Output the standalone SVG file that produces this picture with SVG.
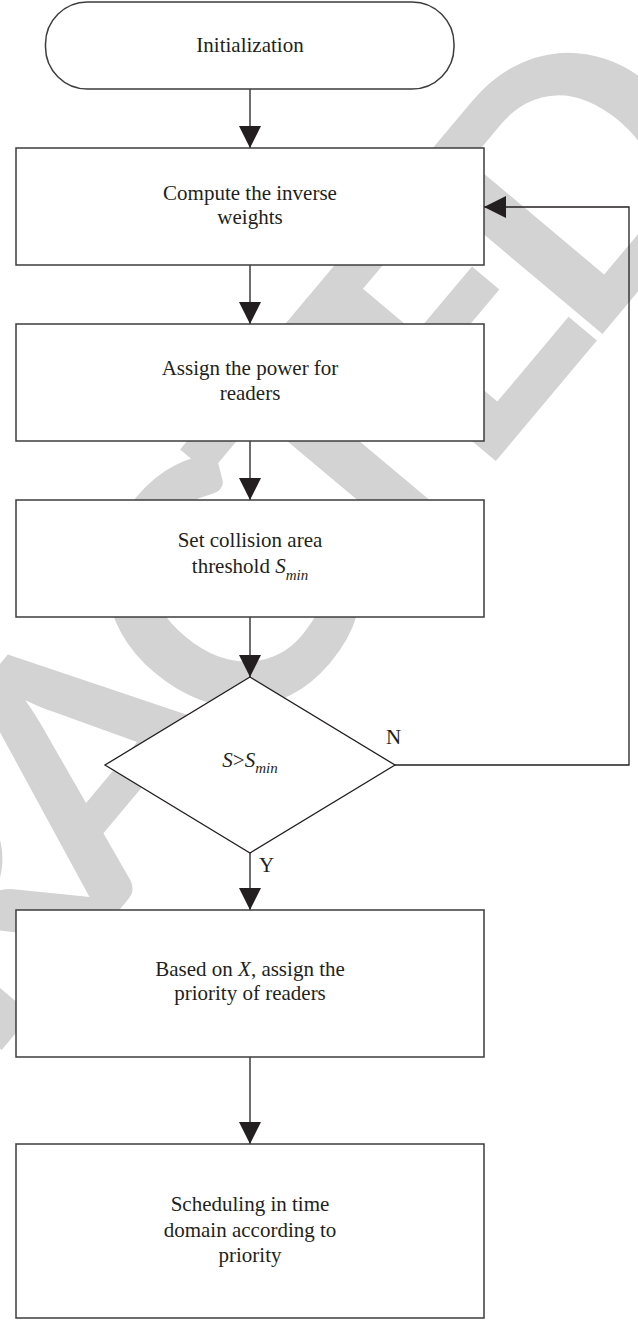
<svg xmlns="http://www.w3.org/2000/svg" width="638" height="1320" viewBox="0 0 638 1320">
<style>
.box{fill:#fff;stroke:#3c3c3c;stroke-width:1.5}
.ln{fill:none;stroke:#231f20;stroke-width:1.3}
.t{font-family:"Liberation Serif","Times New Roman",serif;font-size:21px;fill:#231f20;text-anchor:middle}
.it{font-style:italic}
.sub{font-size:15px;font-style:italic}
.lbl{font-family:"Liberation Serif","Times New Roman",serif;font-size:21px;fill:#231f20}
.wm{font-family:Lato,"DejaVu Sans",sans-serif;font-weight:bold;font-size:345px;fill:#d3d3d3;text-anchor:middle}
</style>
<defs>
<marker id="ah" markerUnits="userSpaceOnUse" markerWidth="22" markerHeight="22" viewBox="0 0 22 22" refX="22" refY="11" orient="auto">
<path d="M0,0 L22,11 L0,22 z" fill="#231f20"/>
</marker>
</defs>
<g id="watermark">
<text class="wm" transform="translate(214,604) rotate(-50)" y="124" x="-920 -743 -575 -395 -195 10 195 362 560">RETRACTED</text>
</g>
<g id="connectors">
<path class="ln" d="M250,89 V148" marker-end="url(#ah)"/>
<path class="ln" d="M250,265 V324" marker-end="url(#ah)"/>
<path class="ln" d="M250,441 V500" marker-end="url(#ah)"/>
<path class="ln" d="M250,617 V677" marker-end="url(#ah)"/>
<path class="ln" d="M250,853 V910" marker-end="url(#ah)"/>
<path class="ln" d="M250,1057 V1144" marker-end="url(#ah)"/>
<path class="ln" d="M395,765 H629 V207 H484" marker-end="url(#ah)"/>
<text class="lbl" x="386" y="744">N</text>
<text class="lbl" x="259" y="872">Y</text>
</g>
<g id="init">
<rect class="box" x="45.5" y="2" width="408.5" height="87" rx="42" ry="42"/>
<text class="t" x="250" y="52">Initialization</text>
</g>
<g id="weights">
<rect class="box" x="16" y="148" width="468" height="117"/>
<text class="t" x="250" y="200">Compute the inverse</text>
<text class="t" x="250" y="224">weights</text>
</g>
<g id="power">
<rect class="box" x="16" y="324" width="468" height="117"/>
<text class="t" x="250" y="375">Assign the power for</text>
<text class="t" x="250" y="400">readers</text>
</g>
<g id="threshold">
<rect class="box" x="16" y="500" width="468" height="117"/>
<text class="t" x="250" y="547">Set collision area</text>
<text class="t" x="250" y="573">threshold <tspan class="it">S</tspan><tspan class="sub" dy="7">min</tspan></text>
</g>
<g id="decision">
<path class="box" d="M250,677 L395,765 L250,853 L105,765 z" style="stroke:#231f20;stroke-width:1.3"/>
<text class="t" x="250" y="767"><tspan class="it">S</tspan>&gt;<tspan class="it">S</tspan><tspan class="sub" dy="6">min</tspan></text>
</g>
<g id="priority">
<rect class="box" x="16" y="910" width="468" height="147"/>
<text class="t" x="250" y="976">Based on <tspan class="it">X</tspan>, assign the</text>
<text class="t" x="250" y="1000">priority of readers</text>
</g>
<g id="schedule">
<rect class="box" x="16" y="1144" width="468" height="174"/>
<text class="t" x="250" y="1211">Scheduling in time</text>
<text class="t" x="250" y="1237">domain according to</text>
<text class="t" x="250" y="1262">priority</text>
</g>
</svg>
